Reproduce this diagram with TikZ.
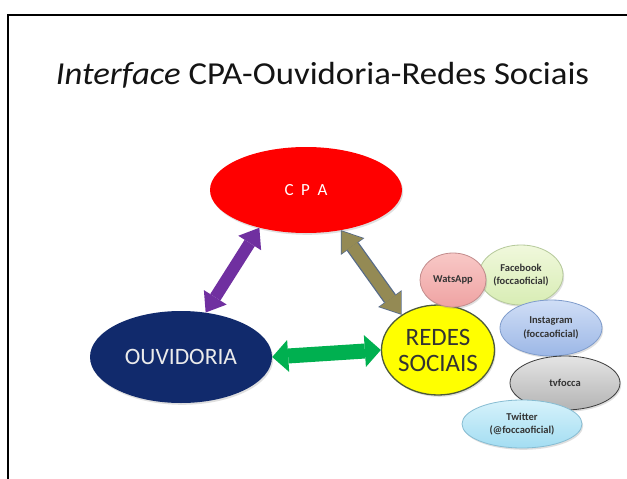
\documentclass[tikz,border=0pt]{standalone}
\usepackage{fontspec}
\setmainfont{Carlito}
\usetikzlibrary{arrows.meta,shapes.geometric,shadows}
\definecolor{cpared}{HTML}{FF0000}
\definecolor{ouvblue}{HTML}{112A6C}
\definecolor{redyel}{HTML}{FFFF00}
\definecolor{rededge}{HTML}{4D5A3A}
\definecolor{txtgray}{HTML}{333333}
\definecolor{pinktop}{HTML}{F8C8C6}
\definecolor{pinkbot}{HTML}{EFA3A3}
\definecolor{pinkedge}{HTML}{C28C8C}
\definecolor{greentop}{HTML}{F0F8DC}
\definecolor{greenbot}{HTML}{D8EDB4}
\definecolor{greenedge}{HTML}{B5C99A}
\definecolor{bluetop}{HTML}{D0DEF6}
\definecolor{bluebot}{HTML}{9CB7E6}
\definecolor{blueedge}{HTML}{7E9BCB}
\definecolor{graytop}{HTML}{E4E4E4}
\definecolor{graybot}{HTML}{B4B4B4}
\definecolor{grayedge}{HTML}{3C3C3C}
\definecolor{cyantop}{HTML}{D6F2FB}
\definecolor{cyanbot}{HTML}{A3DDF2}
\definecolor{cyanedge}{HTML}{86BCD2}
\definecolor{arrpurple}{HTML}{7030A0}
\definecolor{arrolive}{HTML}{948A54}
\definecolor{arroliveedge}{HTML}{566A88}
\definecolor{arrgreen}{HTML}{00B050}
\begin{document}
\begin{tikzpicture}[x=1pt,y=-1pt,
  oval/.style={ellipse, inner sep=0pt, align=center,
    drop shadow={opacity=0.25, shadow xshift=1.2pt, shadow yshift=-1.8pt}},
  social/.style={oval, line width=0.8pt, text=txtgray,
    font=\fontsize{10.5}{13.5}\selectfont\bfseries},
  barrow/.style n args={4}{line width=#1, draw=#2,
    {Triangle[length=#3,width=#4,line width=0pt]}-{Triangle[length=#3,width=#4,line width=0pt]}}
]
\useasboundingbox (0,0) rectangle (627,479);
\fill[white] (0,0) rectangle (627,479);
% frame
\draw[line width=2.6pt, line cap=rect] (8,479) -- (8,15) -- (627,15);
% title
\node[text=black!92, font=\fontsize{32}{38}\selectfont, inner sep=0pt] (title) at (322.5,75)
  {\scalebox{1.085}[1]{\textit{Interface} CPA-Ouvidoria-Redes Sociais}};
% main ovals
\node[oval, fill=cpared, minimum width=192pt, minimum height=86pt,
  text=white, font=\fontsize{17}{20}\selectfont] (cpa) at (306,190) {C\hspace{0.45em}P\hspace{0.45em}A};
\node[oval, fill=ouvblue, minimum width=182pt, minimum height=92pt,
  text=white!92!black, font=\fontsize{23.5}{28}\selectfont] (ouv) at (181,357) {OUVIDORIA};
\node[oval, fill=redyel, draw=rededge, line width=1.3pt, minimum width=110pt, minimum height=90pt,
  text=txtgray, font=\fontsize{25}{26}\selectfont] (redes) at (438,350) {REDES\\SOCIAIS};
% social ovals
\node[social, top color=greentop, bottom color=greenbot, draw=greenedge,
  minimum width=84pt, minimum height=60pt] (fb) at (521,275) {Facebook\\(foccaoficial)};
\node[social, top color=pinktop, bottom color=pinkbot, draw=pinkedge,
  minimum width=66pt, minimum height=54pt] (whats) at (453,280) {WatsApp};
\node[social, top color=bluetop, bottom color=bluebot, draw=blueedge,
  minimum width=102pt, minimum height=56pt] (insta) at (551,328) {Instagram\\(foccaoficial)};
\node[social, top color=graytop, bottom color=graybot, draw=grayedge,
  minimum width=110pt, minimum height=54pt] (tv) at (565,383) {tvfocca};
\node[social, top color=cyantop, bottom color=cyanbot, draw=cyanedge,
  minimum width=120pt, minimum height=48pt] (tw) at (522,424) {Twitter\\(@foccaoficial)};
% arrows
\draw[barrow={12pt}{arrpurple}{18pt}{27pt}] (ouv.61) -- (cpa.219);
\draw[barrow={14.5pt}{arroliveedge}{20pt}{29pt}] (cpa.311) -- (redes.136);
\draw[barrow={12pt}{arrolive}{18pt}{26pt}, shorten >=1.3pt, shorten <=1.3pt] (cpa.311) -- (redes.136);
\draw[barrow={15pt}{arrgreen}{16pt}{32pt}] (ouv.east) -- (redes.west);
\end{tikzpicture}
\end{document}
